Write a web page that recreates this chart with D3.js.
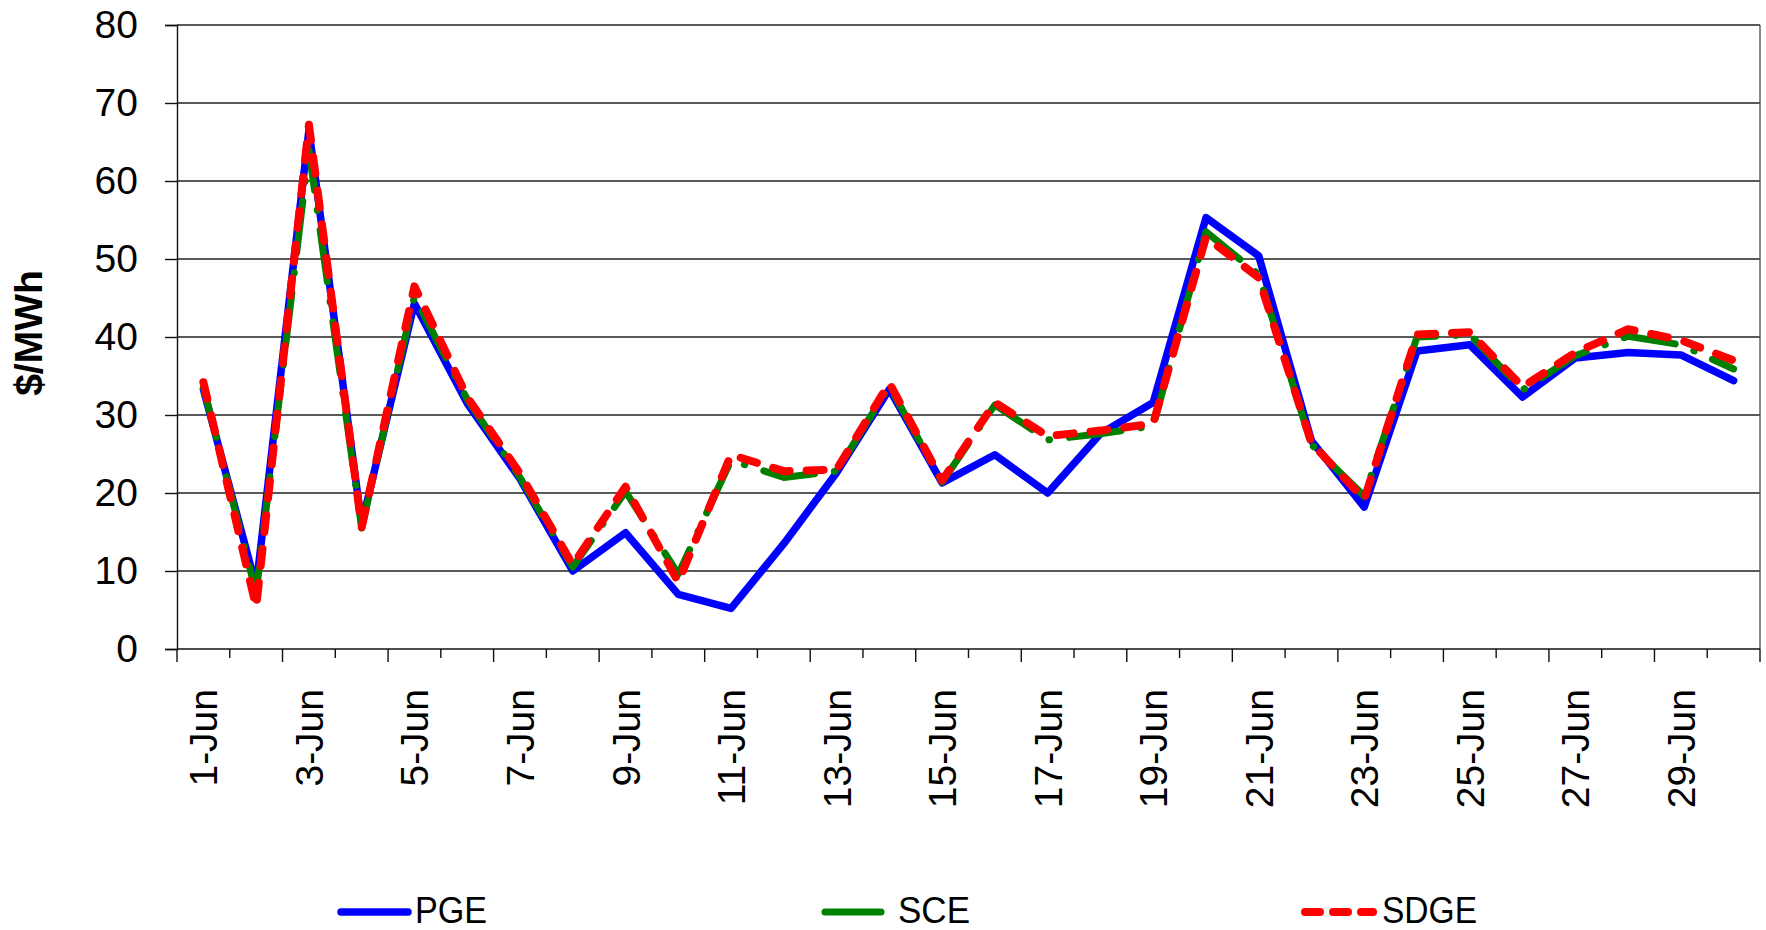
<!DOCTYPE html>
<html>
<head>
<meta charset="utf-8">
<script src="https://cdn.jsdelivr.net/npm/d3@7"></script>
<style>
  body { margin: 0; background: #fff; }
  svg { display: block; font-family: "Liberation Sans", Arial, sans-serif; }
</style>
</head>
<body>
<svg width="1766" height="930"></svg>
<script>
// June daily average prices, $/MWh
const days = ['1-Jun','2-Jun','3-Jun','4-Jun','5-Jun','6-Jun','7-Jun','8-Jun','9-Jun','10-Jun',
  '11-Jun','12-Jun','13-Jun','14-Jun','15-Jun','16-Jun','17-Jun','18-Jun','19-Jun','20-Jun',
  '21-Jun','22-Jun','23-Jun','24-Jun','25-Jun','26-Jun','27-Jun','28-Jun','29-Jun','30-Jun'];
const pge  = [33.3, 8.0, 66.5, 16.0, 44.3, 31.5, 21.8, 10.0, 14.9, 7.0,
  5.2, 13.5, 22.6, 33.3, 21.3, 24.9, 20.0, 27.6, 31.6, 55.3,
  50.4, 26.7, 18.2, 38.2, 39.0, 32.3, 37.3, 38.0, 37.7, 34.4];
const sce  = [33.6, 7.2, 64.0, 15.5, 45.2, 32.0, 22.0, 10.5, 20.2, 9.6,
  24.2, 22.0, 22.8, 33.7, 21.4, 31.3, 26.8, 27.6, 28.6, 53.5,
  48.0, 26.2, 19.6, 40.0, 40.3, 33.2, 37.6, 40.1, 39.0, 35.9];
const sdge = [34.2, 5.4, 67.2, 15.6, 46.5, 32.3, 22.5, 10.8, 20.8, 8.6,
  24.9, 22.8, 23.0, 34.1, 21.6, 31.6, 27.3, 28.0, 28.9, 52.8,
  47.6, 26.4, 19.2, 40.3, 40.6, 33.6, 38.0, 41.0, 39.6, 37.0];
const yTicks = [0, 10, 20, 30, 40, 50, 60, 70, 80];
const xLabels = days.filter((d, i) => i % 2 === 0);

const series = [
  { name: 'PGE', values: pge, color: '#0000ff', width: 7.5, dash: null },
  { name: 'SCE', values: sce, color: '#008000', width: 7, dash: '52,20,0.5,20' },
  { name: 'SDGE', values: sdge, color: '#ff0000', width: 8, dash: '17,17' }
];

const plotLeft = 177, plotRight = 1760, plotTop = 25, plotBottom = 649;
const svg = d3.select('svg');

const x = d3.scaleBand().domain(days).range([plotLeft, plotRight]).padding(0);
const y = d3.scaleLinear().domain([0, 80]).range([plotBottom, plotTop]);
const cx = d => x(d) + x.bandwidth() / 2;

// gridlines
svg.append('g')
  .selectAll('line')
  .data(yTicks.filter(t => t > 0))
  .enter()
  .append('line')
  .attr('x1', plotLeft).attr('x2', plotRight)
  .attr('y1', d => y(d)).attr('y2', d => y(d))
  .attr('stroke', '#222').attr('stroke-width', 1.4);

// right border
svg.append('line')
  .attr('x1', plotRight).attr('x2', plotRight).attr('y1', plotTop).attr('y2', plotBottom)
  .attr('stroke', '#555').attr('stroke-width', 1.4);

// y axis
const yAxis = svg.append('g')
  .attr('transform', `translate(${plotLeft},0)`)
  .call(d3.axisLeft(y).tickValues(yTicks).tickSize(12).tickPadding(27));
yAxis.select('.domain').attr('stroke', '#111').attr('stroke-width', 1.4);
yAxis.selectAll('.tick line').attr('stroke', '#111').attr('stroke-width', 1.4);
yAxis.selectAll('text').attr('font-size', 39).attr('fill', '#000')
  .attr('font-family', '"Liberation Sans", Arial, sans-serif');

// x axis line and tick marks at category boundaries
const bounds = days.map(d => x(d)).concat([plotRight]);
svg.append('line')
  .attr('x1', plotLeft).attr('x2', plotRight).attr('y1', plotBottom).attr('y2', plotBottom)
  .attr('stroke', '#111').attr('stroke-width', 1.4);
svg.append('g')
  .selectAll('line')
  .data(bounds)
  .enter()
  .append('line')
  .attr('x1', d => d).attr('x2', d => d)
  .attr('y1', plotBottom).attr('y2', (d, i) => plotBottom + (i % 2 === 0 ? 13 : 9))
  .attr('stroke', '#111').attr('stroke-width', 1.4);

// x labels, rotated
svg.append('g')
  .selectAll('text')
  .data(xLabels)
  .enter()
  .append('text')
  .attr('transform', d => `translate(${cx(d)},689) rotate(-90)`)
  .attr('text-anchor', 'end')
  .attr('dy', '0.36em')
  .attr('font-size', 39)
  .text(d => d);

// y title
svg.append('text')
  .attr('transform', 'translate(42,333) rotate(-90)')
  .attr('text-anchor', 'middle')
  .attr('font-size', 39)
  .attr('font-weight', 'bold')
  .text('$/MWh');

// lines
const line = vals => d3.line()
  .x((v, i) => cx(days[i]))
  .y(v => y(v))(vals);

svg.append('g')
  .selectAll('path')
  .data(series)
  .enter()
  .append('path')
  .attr('d', d => line(d.values))
  .attr('fill', 'none')
  .attr('stroke', d => d.color)
  .attr('stroke-width', d => d.width)
  .attr('stroke-linejoin', 'round')
  .attr('stroke-linecap', 'round')
  .attr('stroke-dasharray', d => d.dash);

// legend
const legendPos = [
  { x1: 341, x2: 408, tx: 415, len: 72 },
  { x1: 825, x2: 881, tx: 898, len: 72 },
  { x1: 1305, x2: 1373, tx: 1382, len: 95 }
];
const leg = svg.append('g')
  .selectAll('g')
  .data(series)
  .enter()
  .append('g');
leg.append('line')
  .attr('x1', (d, i) => legendPos[i].x1).attr('x2', (d, i) => legendPos[i].x2)
  .attr('y1', 912).attr('y2', 912)
  .attr('stroke', d => d.color)
  .attr('stroke-width', d => d.width)
  .attr('stroke-linecap', 'round')
  .attr('stroke-dasharray', d => d.name === 'SDGE' ? '15,13' : null);
leg.append('text')
  .attr('x', (d, i) => legendPos[i].tx)
  .attr('y', 923)
  .attr('font-size', 37)
  .attr('textLength', (d, i) => legendPos[i].len)
  .attr('lengthAdjust', 'spacingAndGlyphs')
  .text(d => d.name);
</script>
</body>
</html>
